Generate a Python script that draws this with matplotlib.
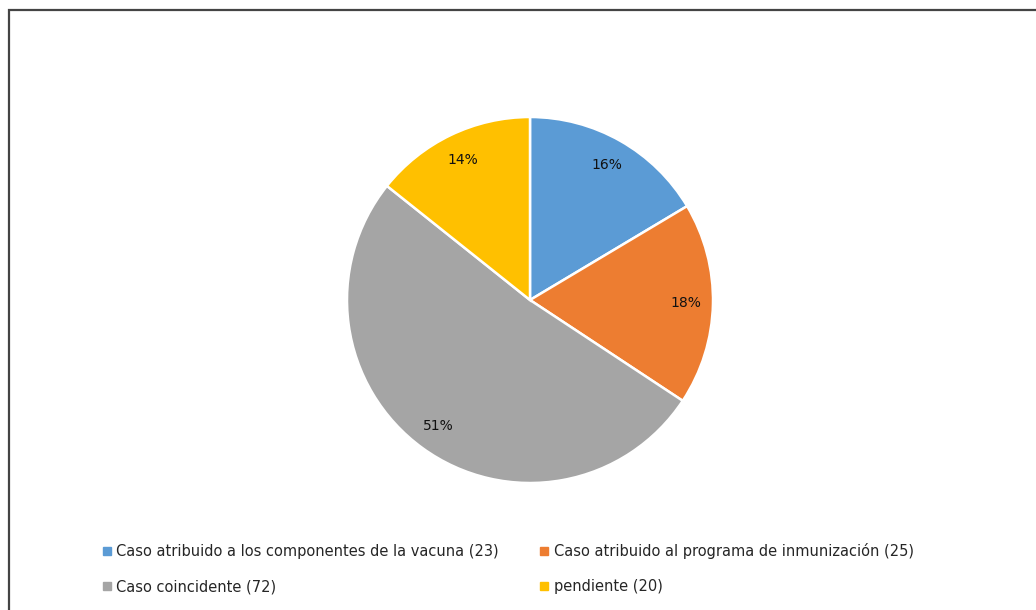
import matplotlib
matplotlib.use("Agg")
import matplotlib.pyplot as plt
from matplotlib.patches import Rectangle
from matplotlib.lines import Line2D

categories = [
    "Caso atribuido a los componentes de la vacuna",
    "Caso atribuido al programa de inmunización",
    "Caso coincidente",
    "pendiente",
]
counts = [23, 25, 72, 20]
colors = ["#5B9BD5", "#ED7D31", "#A5A5A5", "#FFC000"]

W, H = 1036, 610
fig = plt.figure(figsize=(W / 100, H / 100), dpi=100)
fig.patch.set_facecolor("white")

# chart frame (runs off the right and bottom edges)
fig.patches.append(Rectangle((9 / W, -0.05), 1.2, 1 - 10 / H + 0.05,
                             transform=fig.transFigure, fill=False,
                             edgecolor="#444444", linewidth=1.6, zorder=0))

# pie axes: centre (530, 300) px, radius 183 px
r = 183
cx, cy = 530, 300
ax = fig.add_axes([(cx - r) / W, (H - cy - r) / H, 2 * r / W, 2 * r / H])
wedges, texts, autotexts = ax.pie(
    counts, colors=colors, startangle=90, counterclock=False,
    autopct="%1.0f%%", pctdistance=0.85, radius=1.0,
    wedgeprops=dict(edgecolor="white", linewidth=1.8),
    textprops=dict(fontsize=10, color="#111111", family="DejaVu Sans"),
)
ax.set_aspect("equal")
ax.set_xlim(-1, 1)
ax.set_ylim(-1, 1)

labels = [f"{c} ({n})" for c, n in zip(categories, counts)]
handles = [Line2D([], [], marker="s", linestyle="none", markersize=5.5,
                  markerfacecolor=col, markeredgecolor=col) for col in colors]
order = [0, 2, 1, 3]
fig.legend([handles[i] for i in order], [labels[i] for i in order],
           ncol=2, loc="center left", bbox_to_anchor=(96 / W, 1 - 568.5 / H),
           frameon=False, fontsize=10.5, handlelength=0.5, handletextpad=0.4,
           columnspacing=2.85, labelspacing=1.42, borderpad=0.0,
           labelcolor="#262626")

fig.savefig("out.png", dpi=100, facecolor="white")
